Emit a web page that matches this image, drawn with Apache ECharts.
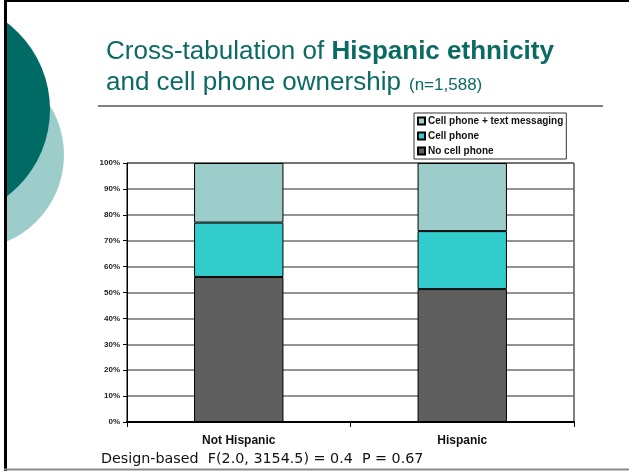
<!DOCTYPE html>
<html>
<head>
<meta charset="utf-8">
<script src="https://cdn.jsdelivr.net/npm/echarts@6/dist/echarts.min.js"></script>
<style>
  html, body { margin: 0; padding: 0; background: #fff; }
  #chart { width: 629px; height: 471px; }
</style>
</head>
<body>
<div id="chart"></div>
<script>
// Categories and stacked shares (percent of each group)
const categories = ['Not Hispanic', 'Hispanic'];
const noCellPhone = [56.0, 51.3];
const cellPhone = [21.0, 22.4];
const cellPhoneText = [23.0, 26.3];
const seriesNames = ['No cell phone', 'Cell phone', 'Cell phone + text messaging'];
const yTicks = [0, 10, 20, 30, 40, 50, 60, 70, 80, 90, 100];

const TEAL_DARK = '#006a64';
const TEAL_LIGHT = '#9dcdcb';
const TITLE_COLOR = '#0b6a64';
const FONT = '"Liberation Sans", Arial, sans-serif';

const chart = echarts.init(document.getElementById('chart'), null, { renderer: 'canvas' });

const barStyle = (color) => ({ color: color, borderColor: '#000', borderWidth: 1 });

chart.setOption({
  animation: false,
  backgroundColor: '#fff',
  textStyle: { fontFamily: FONT },
  grid: {
    left: 127, right: 55, top: 163, bottom: 49,
    show: true, borderColor: '#000', borderWidth: 1, backgroundColor: 'transparent'
  },
  legend: {
    data: [seriesNames[2], seriesNames[1], seriesNames[0]],
    orient: 'vertical',
    left: 414, top: 113,
    padding: [3, 3, 3, 3],
    itemGap: 5,
    itemWidth: 7, itemHeight: 7,
    icon: 'rect',
    borderColor: '#333', borderWidth: 1,
    backgroundColor: '#fff',
    textStyle: { fontFamily: FONT, fontSize: 10, fontWeight: 'bold', color: '#111', lineHeight: 10, padding: [0, 0, 0, -2] },
    selectedMode: false
  },
  xAxis: {
    type: 'category',
    data: categories,
    boundaryGap: true,
    axisLine: { lineStyle: { color: '#000', width: 2 } },
    axisTick: { show: true, length: 5, lineStyle: { color: '#000', width: 1 } },
    axisLabel: { fontFamily: FONT, fontSize: 12, fontWeight: 'bold', color: '#111', margin: 13 }
  },
  yAxis: {
    type: 'value',
    min: yTicks[0], max: yTicks[yTicks.length - 1], interval: 10,
    axisLine: { show: true, lineStyle: { color: '#000', width: 1 } },
    axisTick: { show: true, length: 4, lineStyle: { color: '#000' } },
    axisLabel: { fontFamily: FONT, fontSize: 8, fontWeight: 'bold', color: '#222', margin: 7, formatter: '{value}%' },
    splitLine: { show: true, lineStyle: { color: '#6f6f6f', width: 1.5 } }
  },
  series: [
    { name: seriesNames[0], type: 'bar', stack: 'own', data: noCellPhone, barWidth: '40%', itemStyle: barStyle('#5f5f5f') },
    { name: seriesNames[1], type: 'bar', stack: 'own', data: cellPhone, barWidth: '40%', itemStyle: barStyle('#33cccc') },
    { name: seriesNames[2], type: 'bar', stack: 'own', data: cellPhoneText, barWidth: '40%', itemStyle: barStyle(TEAL_LIGHT) }
  ],
  graphic: [
    // decorative circles on the left edge
    { type: 'circle', z: -10, shape: { cx: -30, cy: 155, r: 94 }, style: { fill: TEAL_LIGHT } },
    { type: 'circle', z: -9, shape: { cx: -59, cy: 109.5, r: 109 }, style: { fill: TEAL_DARK } },
    { type: 'rect', z: -8, shape: { x: 0, y: 0, width: 4, height: 471 }, style: { fill: '#fff' } },
    // frame lines
    { type: 'line', z: -7, shape: { x1: 5.5, y1: 0, x2: 5.5, y2: 471 }, style: { stroke: '#000', lineWidth: 3 } },
    { type: 'line', z: -7, shape: { x1: 4, y1: 1, x2: 629, y2: 1 }, style: { stroke: '#000', lineWidth: 2 } },
    { type: 'line', z: -7, shape: { x1: 4, y1: 469.5, x2: 629, y2: 469.5 }, style: { stroke: '#8a8a8a', lineWidth: 2 } },
    // rule under the title
    { type: 'line', shape: { x1: 98, y1: 106, x2: 603, y2: 106 }, style: { stroke: '#000', lineWidth: 1.2 } },
    // title, first line (mixed weight)
    {
      type: 'text', x: 106, y: 52,
      style: {
        text: '{n|Cross-tabulation of }{b|Hispanic ethnicity}',
        verticalAlign: 'middle',
        rich: {
          n: { fontFamily: 'Liberation Sans', fontSize: 26, fill: TITLE_COLOR },
          b: { fontFamily: 'Liberation Sans', fontSize: 26, fontWeight: 'bold', fill: TITLE_COLOR }
        }
      }
    },
    // title, second line
    {
      type: 'text', x: 106, y: 95.5,
      style: {
        text: 'and cell phone ownership',
        font: '26px "Liberation Sans"',
        fill: TITLE_COLOR, verticalAlign: 'bottom'
      }
    },
    {
      type: 'text', x: 409, y: 93.6,
      style: {
        text: '(n=1,588)',
        font: '17px "Liberation Sans"',
        fill: TITLE_COLOR, verticalAlign: 'bottom'
      }
    },
    // test statistic footnote
    {
      type: 'text', x: 101, y: 459,
      style: {
        text: 'Design-based  F(2.0, 3154.5) = 0.4  P = 0.67',
        font: '14.3px "DejaVu Sans", Verdana, sans-serif',
        fill: '#111', verticalAlign: 'middle'
      }
    }
  ]
});
</script>
</body>
</html>
